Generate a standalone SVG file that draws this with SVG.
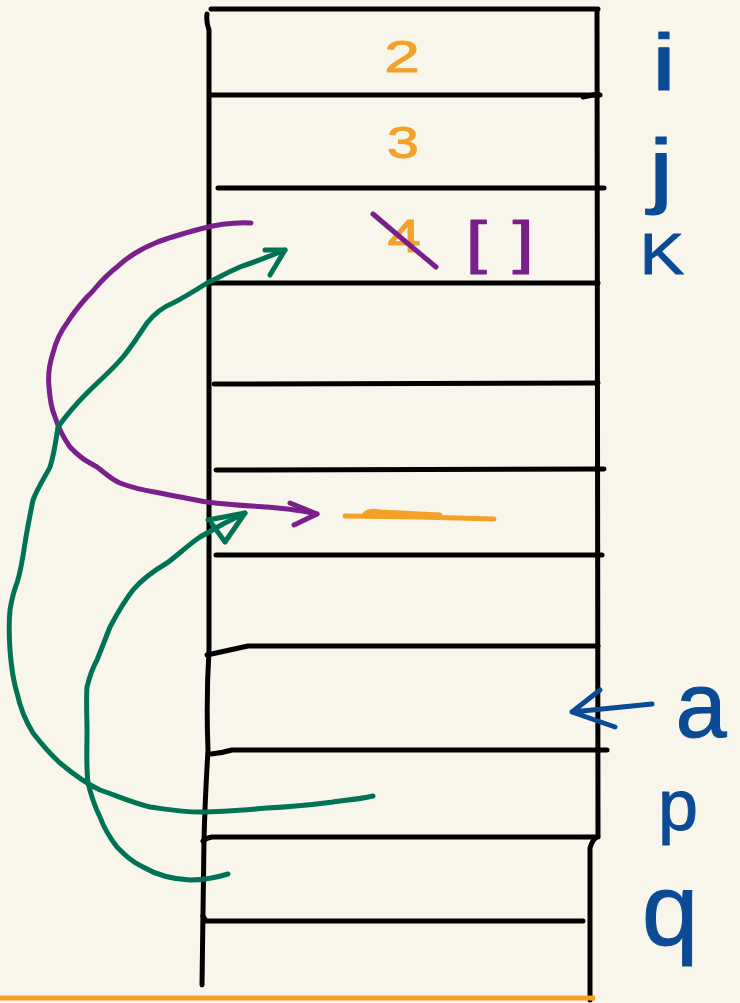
<svg xmlns="http://www.w3.org/2000/svg" width="740" height="1003" viewBox="0 0 740 1003">
<style>
.bk{fill:none;stroke:#000;stroke-width:5;stroke-linecap:round;stroke-linejoin:round}
.pu{fill:none;stroke:#7b1f8c;stroke-width:5;stroke-linecap:round;stroke-linejoin:round}
.gr{fill:none;stroke:#007355;stroke-width:5;stroke-linecap:round;stroke-linejoin:round}
.bl{fill:none;stroke:#0b4a95;stroke-width:5;stroke-linecap:round;stroke-linejoin:round}
.or{fill:none;stroke:#f5a028;stroke-width:5;stroke-linecap:round;stroke-linejoin:round}
.tor{fill:#f5a028;stroke:#f5a028;stroke-width:1;stroke-linejoin:round;font-family:"Liberation Sans",sans-serif;text-anchor:middle}
.tbl{fill:#0b4a95;stroke:#0b4a95;stroke-width:1;stroke-linejoin:round;font-family:"Liberation Sans",sans-serif;text-anchor:middle}
.tpu{fill:#7b1f8c;stroke:#7b1f8c;stroke-width:1.2;stroke-linejoin:round;font-family:"Liberation Sans",sans-serif;text-anchor:middle}
</style>
<rect width="740" height="1003" fill="#f8f6ea"/>
<g id="frame">
<path class="bk" d="M207 14 Q206 22 209 30 L209 650 Q206 700 208 750 Q205 800 204 840 L202 985"/>
<path class="bk" d="M597 10 L598 836 Q592 840 590 848 L590 1000"/>
<path class="bk" d="M211 9 L598 9"/>
<path class="bk" d="M210 95 L600 95"/>
<path class="bk" d="M218 188 L604 188"/>
<path class="bk" d="M210 283 L598 283"/>
<path class="bk" d="M214 384 L598 383"/>
<path class="bk" d="M216 470 L604 469"/>
<path class="bk" d="M216 555 L602 555"/>
<path class="bk" d="M207 655 L248 646 L598 646"/>
<path class="bk" d="M211 754 Q222 753 232 750 L607 750"/>
<path class="bk" d="M203 841 Q206 838 212 837 L598 837"/>
<path class="bk" d="M203 916 L206 921 L583 921"/>
<path class="bk" d="M583 97 L598 94"/>
</g>
<g id="slots">
<text class="tor" transform="translate(402,72) scale(1.45,1)" font-size="44">2</text>
<text class="tor" transform="translate(403,158) scale(1.3,1)" font-size="44">3</text>
<text class="tor" transform="translate(404,252) scale(1.3,1)" font-size="46">4</text>
<path class="pu" d="M373 214 L406 242 L436 267"/>
<text class="tpu" transform="translate(501,262) scale(1.3,1)" font-size="58" letter-spacing="2">[ ]</text>
<path class="or" d="M345 516 L420 517 L494 519 M365 514 Q370 510 380 512 L440 515"/>
</g>
<g id="labels">
<text class="tbl" transform="translate(664,90) scale(1.4,1)" font-size="80">i</text>
<text class="tbl" transform="translate(661,198) scale(1.35,1)" font-size="84">j</text>
<text class="tbl" transform="translate(662,274) scale(1.15,1)" font-size="58">K</text>
<text class="tbl" x="701" y="737" font-size="92">a</text>
<text class="tbl" x="678" y="830" font-size="72">p</text>
<text class="tbl" x="670" y="945" font-size="102">q</text>
</g>
<g id="connectors">
<path class="pu" d="M251 223 C230 222 215 225 200 229 C170 237 140 245 117 267 C100 280 95 290 87 297 C78 307 72 315 67 323 C58 335 55 345 53 353 C49 365 48 377 49 387 C50 400 52 410 55 417 C60 432 65 440 70 447 C80 458 88 462 97 467 C105 473 112 480 120 483 C135 489 148 491 160 493 C180 497 195 500 207 502 C230 505 250 506 267 507 C290 509 305 511 317 514"/>
<path class="pu" d="M290 503 L317 514 L294 525"/>
<path class="gr" d="M373 796 C355 800 345 800 333 802 C310 805 290 807 267 808 C245 810 220 812 200 812 C180 812 165 809 150 807 C130 802 115 795 100 790 C85 783 72 773 60 763 C48 752 40 742 33 733 C25 720 20 707 17 693 C12 677 11 663 10 650 C9 635 9 620 10 610 C12 598 14 590 17 583 C21 570 23 557 25 543 C27 530 30 515 33 500 C38 487 45 477 50 467 C54 455 56 440 58 427 C68 413 77 403 87 393 C100 380 112 370 123 357 C133 345 140 333 147 323 C155 313 163 307 173 303 C185 297 196 290 207 283 C218 278 228 272 240 267 C255 262 270 256 285 250"/>
<path class="gr" d="M265 250 L285 250 L270 275"/>
<path class="gr" d="M228 874 C215 878 205 880 190 880 C170 879 155 874 143 867 C132 862 125 855 117 847 C110 838 104 828 100 817 C94 805 91 795 88 783 C86 765 87 750 87 733 C87 715 86 700 87 687 C90 675 93 667 97 660 C101 650 105 640 110 627 C118 612 125 600 133 590 C143 578 155 570 167 563 C178 555 188 545 200 537 C215 528 230 520 245 513"/>
<path class="gr" d="M208 520 L245 513 L225 542 L212 524"/>
<path class="bl" d="M652 704 L572 712 M600 690 L572 712 L615 727"/>
</g>
<path d="M0 998 L595 998" stroke="#f5a028" stroke-width="5" fill="none"/>
</svg>
